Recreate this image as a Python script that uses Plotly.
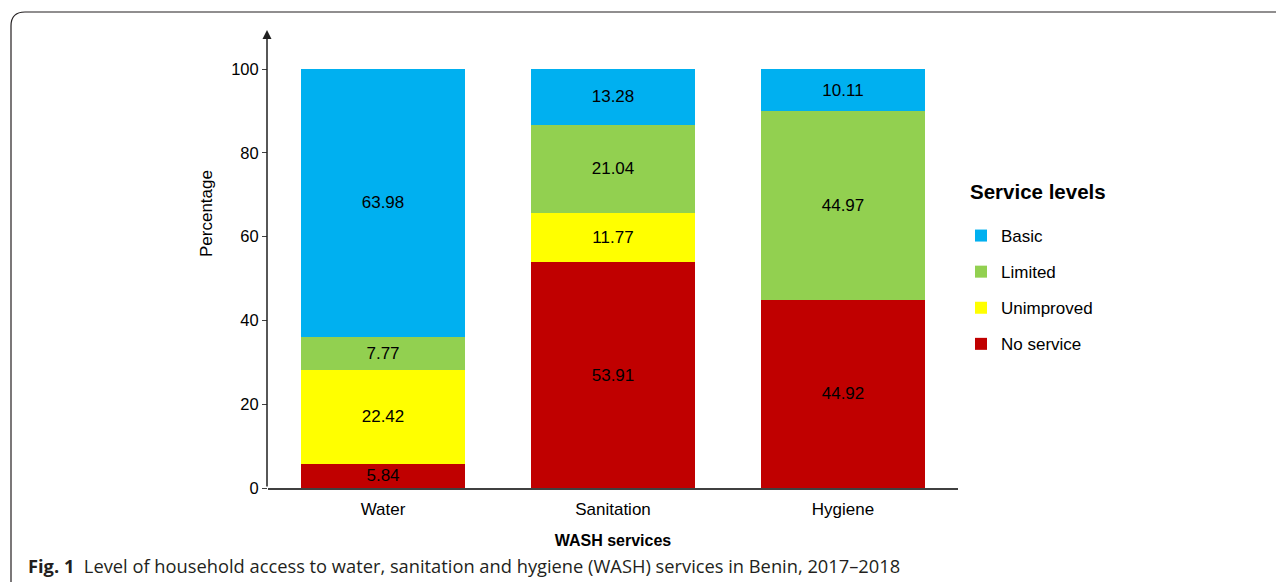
import plotly.graph_objects as go

categories = ["Water", "Sanitation", "Hygiene"]
no_service = [5.84, 53.91, 44.92]
unimproved = [22.42, 11.77, None]
limited = [7.77, 21.04, 44.97]
basic = [63.98, 13.28, 10.11]

series = [
    ("No service", no_service, "#C00000", 4),
    ("Unimproved", unimproved, "#FFFF00", 3),
    ("Limited", limited, "#92D050", 2),
    ("Basic", basic, "#00B0F0", 1),
]

W, H = 1284, 582
OFF = 8  # page body margin
X0, X1, Y0, Y100, YTOP = 268, 958, 488, 69, 30
L, R = X0 - OFF, W - (X1 - OFF)
T, B = YTOP - OFF, H - (Y0 - OFF)
PW, PH = W - L - R, H - T - B
YMAX = 100 * PH / (Y0 - Y100)
FONT = "Liberation Sans, Arial"


def px(x):
    return (x - OFF - L) / PW


def py(y):
    return (H - B - (y - OFF)) / PH


fig = go.Figure()
for name, vals, col, rank in series:
    fig.add_trace(go.Bar(
        x=categories, y=vals, name=name, legendgroup=name, legendrank=rank,
        marker=dict(color=col, line=dict(width=0)),
        text=[f"{v:.2f}" if v is not None else "" for v in vals],
        textposition="inside", insidetextanchor="middle",
        constraintext="none",
        textfont=dict(color="#000000", size=17, family=FONT),
        cliponaxis=False,
    ))

fig.update_layout(
    width=W, height=H, barmode="stack", bargap=0.287,
    margin=dict(l=L, r=R, t=T, b=B, pad=0),
    paper_bgcolor="white", plot_bgcolor="white",
    font=dict(family=FONT, size=17, color="#000000"),
    showlegend=True,
    legend=dict(
        traceorder="grouped", tracegroupgap=11,
        x=px(961), xanchor="left", y=py(218), yanchor="top",
        font=dict(size=17), itemwidth=30, bgcolor="rgba(0,0,0,0)",
    ),
    xaxis=dict(
        showline=True, linecolor="#404040", linewidth=1.5,
        ticks="", tickfont=dict(size=17), ticklabelstandoff=5,
        title=dict(text="<b>WASH services</b>", font=dict(size=16), standoff=17),
        showgrid=False, zeroline=False,
    ),
    yaxis=dict(
        range=[0, YMAX], tickvals=[0, 20, 40, 60, 80, 100],
        ticks="outside", ticklen=5, tickcolor="#404040", tickwidth=1,
        tickfont=dict(size=16.5), showgrid=False, zeroline=False, showline=False,
    ),
)

# legend title
fig.add_annotation(
    xref="paper", yref="paper", x=px(968), y=py(191), xanchor="left", yanchor="middle",
    text="<b>Service levels</b>", showarrow=False, font=dict(size=20.5),
)
# y axis with arrow
fig.add_annotation(
    xref="paper", yref="paper", x=px(267), y=1, ax=0, ay=PH,
    axref="pixel", ayref="pixel", text="", showarrow=True,
    arrowhead=2, arrowsize=1.2, arrowwidth=1.5, arrowcolor="#202020",
)
# y axis title
fig.add_annotation(
    xref="paper", yref="paper", x=px(206), y=py(214), text="Percentage",
    textangle=-90, showarrow=False, font=dict(size=17),
    xanchor="center", yanchor="middle",
)
# caption
fig.add_annotation(
    xref="paper", yref="paper", x=px(26), y=py(565), xanchor="left", yanchor="middle",
    text="<b>Fig. 1</b>  Level of household access to water, sanitation and hygiene (WASH) services in Benin, 2017–2018",
    showarrow=False, font=dict(family="Open Sans", size=18.3, color="#231f20"),
)
# rounded frame
x0, yt, r = px(11), py(12), 14
path = (f"M {x0},{py(620)} L {x0},{py(12 + r)} "
        f"Q {x0},{yt} {px(11 + r)},{yt} L {px(1320)},{yt}")
fig.add_shape(type="path", xref="paper", yref="paper", path=path,
              line=dict(color="#231f20", width=1.2), layer="above")

fig.write_html("out.html")
